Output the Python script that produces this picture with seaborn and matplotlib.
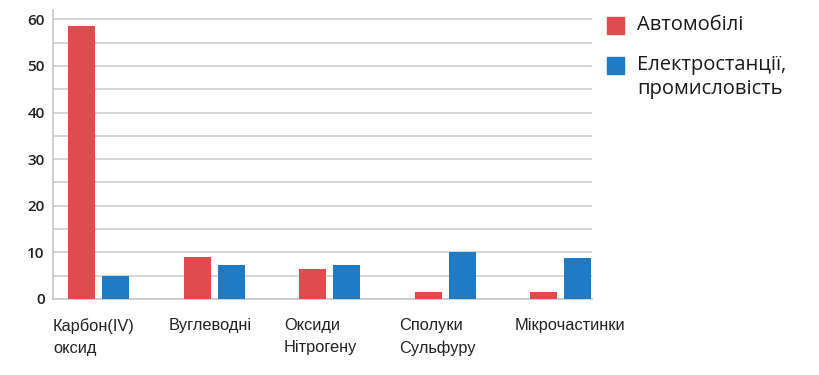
import numpy as np
import pandas as pd
import matplotlib
matplotlib.use('Agg')
import matplotlib.pyplot as plt
from matplotlib.patches import Rectangle
import seaborn as sns

# data
categories = ['Карбон(IV)\nоксид', 'Вуглеводні', 'Оксиди\nНітрогену', 'Сполуки\nСульфуру', 'Мікрочастинки']
cars = [58.6, 9.0, 6.4, 1.4, 1.4]
industry = [5.0, 7.2, 7.3, 10.0, 8.8]
series_names = ['Автомобілі', 'Електростанції,\nпромисловість']

df = pd.DataFrame({
    'cat': categories * 2,
    'value': cars + industry,
    'series': [series_names[0]] * 5 + [series_names[1]] * 5,
})

sns.set_style('white')
plt.rcParams['font.family'] = ['Open Sans', 'DejaVu Sans']

fig = plt.figure(figsize=(8.2, 3.75), dpi=100)
ax = fig.add_axes([0.0646, 0.2027, 0.657, 0.7707])

palette = ['#e04b4f', '#1f7bc4']
sns.barplot(data=df, x='cat', y='value', hue='series', palette=palette,
            width=0.586, gap=0.2, saturation=1, linewidth=0, edgecolor='none',
            ax=ax, zorder=3, legend=False)

ax.set_ylim(0, 62)
ax.set_xlim(-0.397, 4.267)
ax.set_yticks(np.arange(0, 61, 10))
ax.set_yticks(np.arange(5, 61, 10), minor=True)
ax.grid(axis='y', which='both', color='#cfcfcf', linewidth=1.2, zorder=0)
ax.set_axisbelow(True)

for s in ['top', 'right']:
    ax.spines[s].set_visible(False)
for s in ['left', 'bottom']:
    ax.spines[s].set_color('#c8c8c8')
    ax.spines[s].set_linewidth(1.2)

# category labels sit left-aligned at the category boundary ticks
ax.set_xticks(np.arange(len(categories)) - 0.397)
ax.set_xticklabels(categories, ha='left', fontsize=11.8,
                   family=['Liberation Sans', 'DejaVu Sans'], linespacing=1.55,
                   color='#222222')
ax.tick_params(axis='x', length=5, color='#c8c8c8', width=1.2, pad=9)
ax.tick_params(axis='y', which='both', length=0, pad=6, labelsize=11, labelcolor='#222222')
for lbl in ax.get_yticklabels():
    lbl.set_fontweight('semibold')
ax.set_xlabel('')
ax.set_ylabel('')

# legend on the right, squares aligned with the first text line
leg_y = [0.932, 0.823]
for col, y in zip(palette, leg_y):
    fig.patches.append(Rectangle((607 / 820, y - 8 / 375), 17 / 820, 17 / 375,
                                 transform=fig.transFigure, color=col))

fig.text(637 / 820, leg_y[0], series_names[0], fontsize=14.5, color='#1a1a1a',
         va='center', ha='left')
fig.text(637 / 820, leg_y[1] + 11 / 375, series_names[1], fontsize=14.5, color='#1a1a1a',
         va='top', ha='left', linespacing=1.25)

fig.savefig('out.png', dpi=100)
